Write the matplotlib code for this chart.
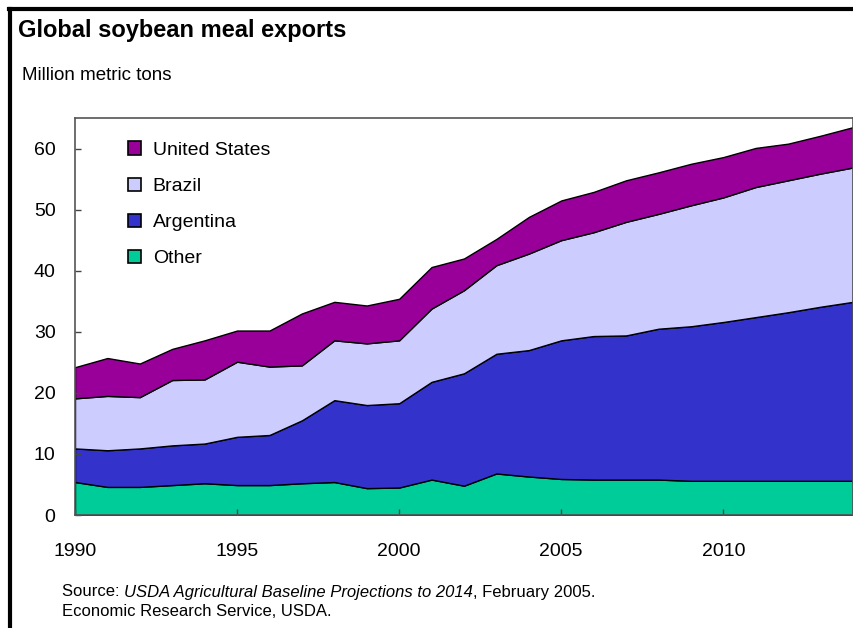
import matplotlib
matplotlib.use("Agg")
import matplotlib.pyplot as plt
from matplotlib.patches import Patch
from matplotlib.lines import Line2D

plt.rcParams['font.family'] = ['Liberation Sans', 'DejaVu Sans']

years = list(range(1990, 2015))
other = [5.4, 4.6, 4.6, 4.9, 5.2, 4.9, 4.9, 5.2, 5.4, 4.4, 4.5, 5.8, 4.8,
         6.8, 6.3, 5.9, 5.8, 5.8, 5.8, 5.6, 5.6, 5.6, 5.6, 5.6, 5.6]
argentina = [5.5, 6.0, 6.3, 6.5, 6.5, 7.9, 8.2, 10.3, 13.4, 13.6, 13.8, 16.0, 18.4,
             19.6, 20.7, 22.7, 23.5, 23.6, 24.7, 25.3, 26.0, 26.8, 27.6, 28.5, 29.3]
brazil = [8.2, 8.9, 8.4, 10.7, 10.5, 12.3, 11.2, 9.0, 9.8, 10.1, 10.3, 12.0, 13.6,
          14.5, 15.8, 16.4, 17.0, 18.6, 18.8, 19.8, 20.4, 21.3, 21.6, 21.8, 22.0]
us = [5.1, 6.2, 5.5, 5.1, 6.4, 5.1, 5.9, 8.5, 6.3, 6.2, 6.8, 6.8, 5.2,
      4.3, 6.0, 6.5, 6.6, 6.8, 6.8, 6.8, 6.6, 6.4, 6.0, 6.2, 6.6]

labels = ["Other", "Argentina", "Brazil", "United States"]
colors = ["#00CC99", "#3333CC", "#CCCCFF", "#990099"]

fig = plt.figure(figsize=(8.54, 6.28), dpi=100)
ax = fig.add_axes([75/854, 113/628, 778/854, 397/628])

ax.stackplot(years, other, argentina, brazil, us, colors=colors,
             edgecolor="black", linewidth=1.0)

ax.set_xlim(1990, 2014)
ax.set_ylim(0, 65)
ax.set_xticks([1990, 1995, 2000, 2005, 2010])
ax.set_yticks([0, 10, 20, 30, 40, 50, 60])
ax.tick_params(direction="in", length=4, width=1, color="#444444",
               labelsize=14)
ax.tick_params(axis="y", pad=14)
ax.tick_params(axis="x", pad=20)
for s in ax.spines.values():
    s.set_color("#555555")
    s.set_linewidth(1.2)

handles = [Patch(facecolor=c, edgecolor="black", linewidth=1.2)
           for c in colors[::-1]]
ax.legend(handles, labels[::-1], loc="upper left", bbox_to_anchor=(0.045, 0.985),
          frameon=False, fontsize=14, handlelength=0.7, handleheight=0.7,
          handletextpad=0.6, labelspacing=0.95)

fig.text(18/854, 1 - 30/628, "Global soybean meal exports", fontsize=17,
         fontweight="bold", va="center", ha="left")
fig.text(22/854, 1 - 75/628, "Million metric tons", fontsize=13.5,
         va="center", ha="left")
src = fig.text(62/854, 1 - 592/628, "Source: ", fontsize=12,
               va="center", ha="left")
src2 = ax.annotate("USDA Agricultural Baseline Projections to 2014",
                   xy=(1, 0), xycoords=src, va="bottom", ha="left",
                   fontsize=12, style="italic")
ax.annotate(", February 2005.", xy=(1, 0), xycoords=src2, va="bottom",
            ha="left", fontsize=12)
fig.text(62/854, 1 - 611/628, "Economic Research Service, USDA.", fontsize=12,
         va="center", ha="left")

# outer frame (top and left edges visible)
fig.add_artist(Line2D([9/854, 1], [1 - 9/628, 1 - 9/628], color="black",
                      linewidth=3, transform=fig.transFigure))
fig.add_artist(Line2D([10/854, 10/854], [0, 1 - 9/628], color="black",
                      linewidth=3, transform=fig.transFigure))

fig.savefig("out.png", dpi=100)
